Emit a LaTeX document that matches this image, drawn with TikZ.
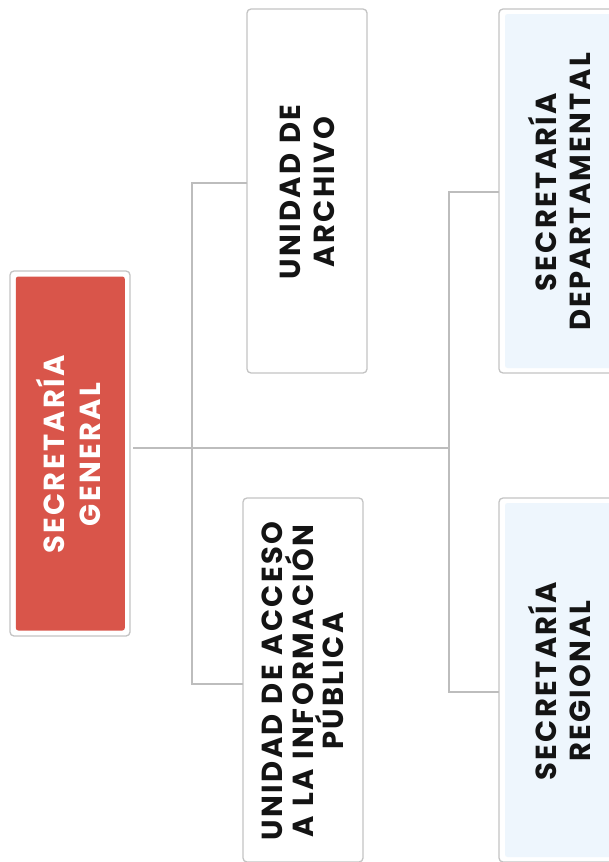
\documentclass[tikz,border=0pt]{standalone}
\usepackage{fontspec}
\setmainfont{Poppins}[LetterSpace=8,WordSpace=1.15]
\definecolor{sgred}{HTML}{D9554A}
\definecolor{lblue}{HTML}{EEF6FD}
\definecolor{bord}{HTML}{C4C4C4}
\definecolor{conn}{HTML}{BDBDBD}
\definecolor{ink}{HTML}{141414}
\begin{document}
\begin{tikzpicture}[x=1pt,y=-1pt,
  outerbox/.style={draw=bord,line width=1.3pt,rounded corners=4pt,fill=white,minimum width=120pt,minimum height=364pt,inner sep=0pt,outer sep=0pt},
  innerbox/.style={rounded corners=2.5pt,minimum width=109pt,minimum height=354pt,inner sep=0pt,outer sep=0pt},
  label/.style={rotate=90,align=center,font=\fontsize{29}{34}\selectfont\bfseries,text=ink},
  connector/.style={draw=conn,line width=1.2pt}]
\clip (0,0) rectangle (609,862);
\fill[white] (0,0) rectangle (609,862);
% boxes
\node[outerbox,minimum height=365pt] (sg) at (70,453.5) {};
\node[innerbox,fill=sgred] (sgi) at (70.3,453.5) {};
\node[label,text=white,font=\fontsize{29}{36}\selectfont\bfseries] (sgt) at ([xshift=-1.5pt,yshift=-1pt]sgi.center) {SECRETARÍA\\GENERAL};

\node[outerbox] (ua) at (307,191) {};
\node[label] (uat) at ([yshift=-1pt]ua.center) {UNIDAD DE\\ARCHIVO};

\node[outerbox] (sd) at (559,191) {};
\node[innerbox,fill=lblue] (sdi) at (559.5,191) {};
\node[label] (sdt) at ([yshift=-1pt]sdi.center) {SECRETARÍA\\DEPARTAMENTAL};

\node[outerbox] (uai) at (303,680) {};
\node[label,font=\fontsize{29}{30.5}\selectfont\bfseries] (uait) at ([yshift=-1pt]uai.center) {UNIDAD DE ACCESO\\A LA INFORMACIÓN\\PÚBLICA};

\node[outerbox] (sr) at (559,680) {};
\node[innerbox,fill=lblue] (sri) at (559.5,680) {};
\node[label] (srt) at ([yshift=-1pt]sri.center) {SECRETARÍA\\REGIONAL};

% connectors
\coordinate (j) at (192,448);
\coordinate (a1) at (192,183);
\coordinate (a2) at (192,684);
\coordinate (b1) at (449,192);
\coordinate (b2) at (449,692);
\draw[connector] ([xshift=3pt]sg.east |- j) -- (b1 |- j);
\draw[connector] (ua.west |- a1) -- (a1) -- (a2) -- (uai.west |- a2);
\draw[connector] (sd.west |- b1) -- (b1) -- (b2) -- (sr.west |- b2);
\end{tikzpicture}
\end{document}
